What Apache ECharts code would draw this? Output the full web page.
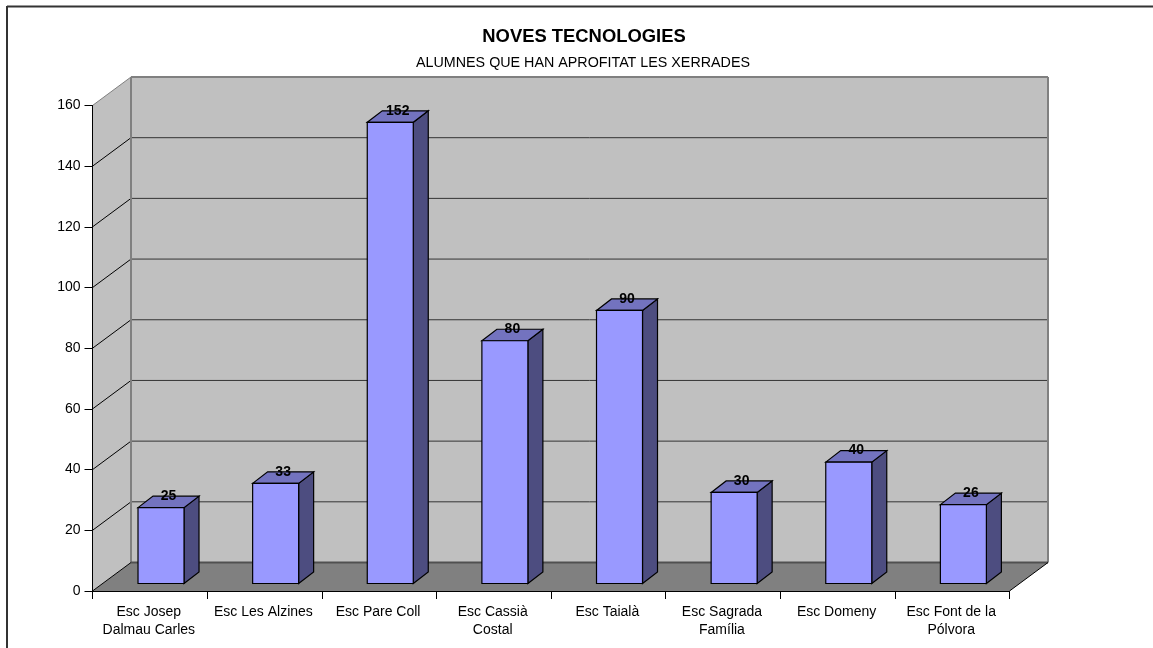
<!DOCTYPE html>
<html><head><meta charset="utf-8">
<style>html,body{margin:0;padding:0;background:#fff}#c{width:1153px;height:648px}</style>
<script src="https://cdn.jsdelivr.net/npm/echarts@6/dist/echarts.min.js"></script>
</head><body><div id="c"></div>
<script>
const titleText = 'NOVES TECNOLOGIES';
const subtitleText = 'ALUMNES QUE HAN APROFITAT LES XERRADES';
const categories = ['Esc Josep\nDalmau Carles','Esc Les Alzines','Esc Pare Coll','Esc Cassià\nCostal','Esc Taialà','Esc Sagrada\nFamília','Esc Domeny','Esc Font de la\nPólvora'];
const students = [25,33,152,80,90,30,40,26];
const yTicks = [0,20,40,60,80,100,120,140,160];

const FONT = '"Liberation Sans", Arial, sans-serif';
const wallDX = 38.5, wallDY = -28.5;
const barDX = 15, barDY = -11.5;
const barBaseDX = 11.2, barBaseDY = -7.5, barW = 46;

function poly(pts, fill, stroke, lw, z2) {
  return {type:'polygon', shape:{points:pts}, z2:z2||0,
    style:{fill:fill||'none', stroke:stroke||'none', lineWidth:lw||1, lineJoin:'miter'}};
}
function seg(x1,y1,x2,y2,stroke,lw,z2){
  return {type:'line', shape:{x1,y1,x2,y2}, z2:z2||0, style:{stroke, lineWidth:lw}};
}
function renderWalls(params, api) {
  const cs = params.coordSys;
  const l = cs.x, r = cs.x + cs.width, base = api.coord([0,0])[1], top = api.coord([0,160])[1];
  const kids = [
    poly([[l,base],[l+wallDX,base+wallDY],[l+wallDX,top+wallDY],[l,top]], '#C0C0C0'),
    poly([[l+wallDX,base+wallDY],[r+wallDX,base+wallDY],[r+wallDX,top+wallDY],[l+wallDX,top+wallDY]], '#C0C0C0'),
    poly([[l,base],[r,base],[r+wallDX,base+wallDY],[l+wallDX,base+wallDY]], '#808080')
  ];
  yTicks.forEach(t => {
    const y = api.coord([0,t])[1];
    if (t > 0 && t < 160) {
      kids.push(seg(l+wallDX,y+wallDY,r+wallDX,y+wallDY,'#333333',1));
    }
    if (t > 0) kids.push(seg(l,y,l+wallDX,y+wallDY, t===160 ? '#808080' : '#000000',1));
  });
  kids.push(seg(l+wallDX,top+wallDY,r+wallDX,top+wallDY,'#808080',2));
  kids.push(seg(l+wallDX,top+wallDY,l+wallDX,base+wallDY,'#808080',2));
  kids.push(seg(r+wallDX,top+wallDY,r+wallDX,base+wallDY,'#808080',2));
  kids.push(seg(l+wallDX,base+wallDY,r+wallDX,base+wallDY,'#505050',2));
  kids.push(seg(l,base,l+wallDX,base+wallDY,'#000000',1));
  kids.push(seg(r,base,r+wallDX,base+wallDY,'#000000',1));
  return {type:'group', children:kids};
}
function renderBar(params, api) {
  const c = api.coord([api.value(0), api.value(1)]);
  const c0 = api.coord([api.value(0), 0]);
  const x0 = c[0] + barBaseDX - barW/2, x1 = x0 + barW;
  const yT = c[1] + barBaseDY, yB = c0[1] + barBaseDY;
  return {type:'group', children:[
    poly([[x1,yT],[x1+barDX,yT+barDY],[x1+barDX,yB+barDY],[x1,yB]], '#4D4D80', '#000', 1.2),
    poly([[x0,yT],[x0+barDX,yT+barDY],[x1+barDX,yT+barDY],[x1,yT]], '#7373BF', '#000', 1.2),
    poly([[x0,yT],[x1,yT],[x1,yB],[x0,yB]], '#9999FF', '#000', 1.2),
    {type:'text', z2:5, style:{x:(x0+x1)/2+barDX/2, y:yT+barDY, text:String(api.value(1)),
      align:'center', verticalAlign:'middle', font:'bold 14px '+FONT, fill:'#000'}}
  ]};
}
const chart = echarts.init(document.getElementById('c'), null, {renderer:'canvas'});
chart.setOption({
  animation:false,
  backgroundColor:'#fff',
  title:[
    {text:titleText, left:584, top:28, padding:0, textAlign:'center', textStyle:{fontFamily:FONT, fontSize:18.4, fontWeight:'bold', color:'#000'}},
    {text:subtitleText, left:583, top:56, padding:0, textAlign:'center', textStyle:{fontFamily:FONT, fontSize:14.3, fontWeight:'normal', color:'#000'}}
  ],
  graphic:[
    {type:'line', shape:{x1:7,y1:6.5,x2:1153,y2:6.5}, style:{stroke:'#333',lineWidth:2}, silent:true},
    {type:'line', shape:{x1:7,y1:6,x2:7,y2:648}, style:{stroke:'#333',lineWidth:2}, silent:true}
  ],
  grid:{left:92.5, right:143.5, top:105.5, bottom:57, containLabel:false},
  xAxis:{type:'category', data:categories, boundaryGap:true, z:10,
    axisLine:{show:true, lineStyle:{color:'#000',width:1}},
    axisTick:{show:true, length:8, alignWithLabel:false, lineStyle:{color:'#000'}},
    axisLabel:{interval:0, fontFamily:FONT, fontSize:14, color:'#000', lineHeight:18, margin:12, padding:[0,2,0,0]}},
  yAxis:{type:'value', min:0, max:160, interval:20, z:10,
    axisLine:{show:true, lineStyle:{color:'#000',width:1}},
    axisTick:{show:true, length:8, lineStyle:{color:'#000'}},
    axisLabel:{fontFamily:FONT, fontSize:14, color:'#000', margin:12, padding:[4,0,0,0]},
    splitLine:{show:false}},
  series:[
    {type:'custom', name:'walls', renderItem:renderWalls, data:[[0,0]], clip:false, silent:true, z:1, encode:{x:0,y:1}},
    {type:'custom', name:'Alumnes', renderItem:renderBar, data:students.map((v,i)=>[i,v]), clip:false, silent:true, z:2, encode:{x:0,y:1}}
  ]
});
</script></body></html>
